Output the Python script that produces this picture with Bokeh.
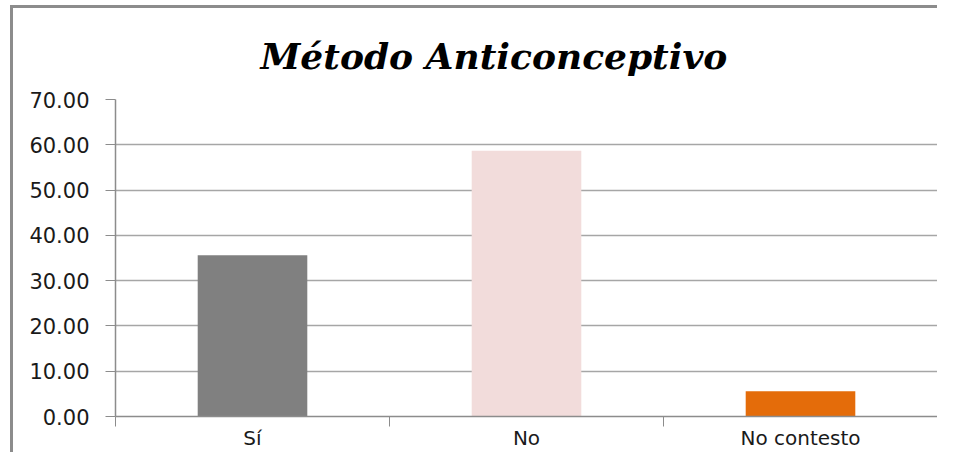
from bokeh.plotting import figure
from bokeh.models import FixedTicker, Range1d, NumeralTickFormatter
from bokeh.embed import file_html
from bokeh.resources import INLINE

title_text = "Método Anticonceptivo"
categories = ["Sí", "No", "No contesto"]
values = [35.6, 58.7, 5.6]
bar_colors = ["#808080", "#F2DCDB", "#E46C0A"]
y_ticks = [0, 10, 20, 30, 40, 50, 60, 70]

W, H = 937, 452
frame_css = {
    "background-color": "#FFFFFF",
    "background-image": "linear-gradient(#8C8C8C, #8C8C8C), linear-gradient(#8C8C8C, #8C8C8C)",
    "background-size": "3px 100%, 100% 3px",
    "background-position": "10px 5px, 10px 5px",
    "background-repeat": "no-repeat",
}
p = figure(width=W, height=H, output_backend="svg", toolbar_location=None,
           x_range=Range1d(0, len(categories)), y_range=Range1d(0, 70),
           min_border_left=115, min_border_right=0, min_border_top=99,
           min_border_bottom=36, title=title_text, styles=frame_css)

p.title.text_font = "DejaVu Serif"
p.title.text_font_style = "bold italic"
p.title.text_font_size = "36px"
p.title.align = "left"
p.title.offset = 145
p.title.standoff = 46
p.title.text_color = "#000000"

p.outline_line_color = None
p.background_fill_color = "white"
p.border_fill_color = None

centers = [i + 0.5 for i in range(len(categories))]
bounds = list(range(len(categories) + 1))
p.vbar(x=centers, top=values, width=0.4, color=bar_colors, line_color=None)

gray = "#8C8C8C"
p.yaxis.ticker = FixedTicker(ticks=y_ticks, minor_ticks=[])
p.yaxis.formatter = NumeralTickFormatter(format="0.00")
p.yaxis.major_label_text_font = "DejaVu Sans"
p.yaxis.major_label_text_font_size = "21px"
p.yaxis.major_label_text_color = "#1a1a1a"
p.yaxis.major_tick_out = 10
p.yaxis.major_tick_in = 0
p.yaxis.major_tick_line_color = gray
p.yaxis.axis_line_color = gray
p.yaxis.axis_line_width = 1.5
p.yaxis.major_label_standoff = 16

p.xaxis.ticker = FixedTicker(ticks=centers, minor_ticks=bounds)
p.xaxis.major_label_overrides = {c: lab for c, lab in zip(centers, categories)}
p.xaxis.major_tick_out = 0
p.xaxis.major_tick_in = 0
p.xaxis.minor_tick_out = 10
p.xaxis.minor_tick_in = 0
p.xaxis.minor_tick_line_color = gray
p.xaxis.axis_line_color = gray
p.xaxis.axis_line_width = 1.5
p.xaxis.major_label_text_font = "DejaVu Sans"
p.xaxis.major_label_text_font_size = "20px"
p.xaxis.major_label_text_color = "#1a1a1a"
p.xaxis.major_label_standoff = -1

p.xgrid.visible = False
p.ygrid.ticker = FixedTicker(ticks=y_ticks, minor_ticks=[])
p.ygrid.grid_line_color = "#A6A6A6"
p.ygrid.grid_line_width = 1.5

open("out.html", "w").write(file_html(p, INLINE))
